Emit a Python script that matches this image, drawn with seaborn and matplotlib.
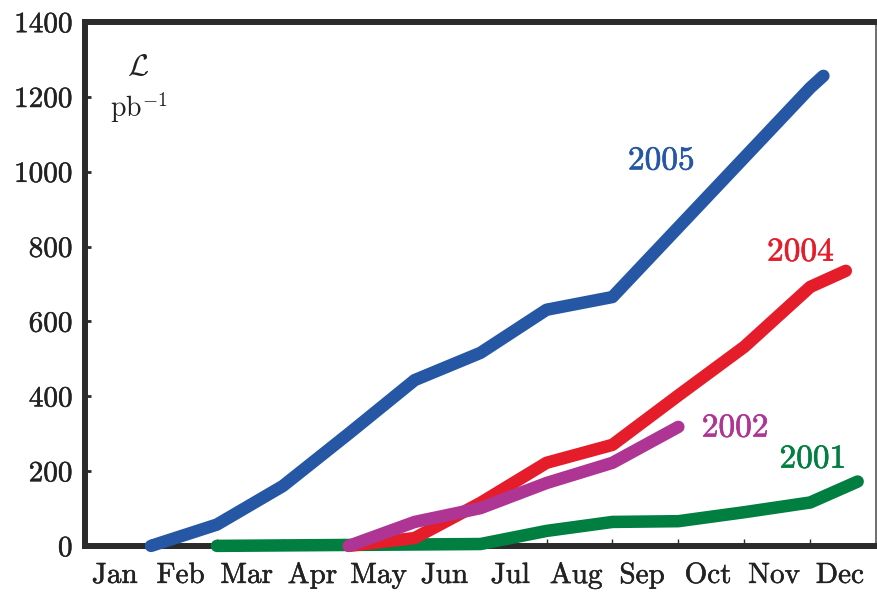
import numpy as np
import pandas as pd
import seaborn as sns
import matplotlib.pyplot as plt
import matplotlib.patheffects as pe

# integrated luminosity per run year, x in months (0 = Jan 1, 12 = Dec 31)
months = ["Jan", "Feb", "Mar", "Apr", "May", "Jun", "Jul", "Aug", "Sep", "Oct", "Nov", "Dec"]

x2005 = [1, 2, 3, 4, 5, 6, 7, 8, 11, 11.2]
y2005 = [0, 57, 160, 300, 443, 516, 631, 665, 1224, 1256]

x2004 = [4, 5, 6, 7, 8, 9, 10, 11, 11.54]
y2004 = [0, 21, 115, 222, 270, 402, 532, 692, 735]

x2002 = [4, 5, 6, 7, 8, 9]
y2002 = [0, 64, 101, 168, 222, 318]

x2001 = [2, 6, 7, 8, 9, 10, 11, 11.72]
y2001 = [0, 5, 40, 64, 66, 90, 116, 172]

years = ["2001", "2004", "2002", "2005"]
colors = {"2005": "#2557a5", "2004": "#e51d2b", "2002": "#ae3593", "2001": "#007f41"}

df = pd.concat([
    pd.DataFrame({"month": x2001, "lumi": y2001, "year": "2001"}),
    pd.DataFrame({"month": x2004, "lumi": y2004, "year": "2004"}),
    pd.DataFrame({"month": x2002, "lumi": y2002, "year": "2002"}),
    pd.DataFrame({"month": x2005, "lumi": y2005, "year": "2005"}),
])

sns.set_style("white")
plt.rcParams['font.family'] = ['cmr10', 'DejaVu Serif']
plt.rcParams['mathtext.fontset'] = 'cm'
plt.rcParams['axes.formatter.use_mathtext'] = True

fig = plt.figure(figsize=(8.77, 5.94), dpi=100)
ax = fig.add_axes([0.097, 0.081, 0.902, 0.882])

sns.lineplot(data=df, x="month", y="lumi", hue="year", hue_order=years,
             palette=colors, linewidth=9, legend=False, sort=False,
             estimator=None, solid_capstyle="round", ax=ax,
             clip_on=False, zorder=3)

ax.set_xlim(0, 12)
ax.set_ylim(0, 1400)
ax.set_xlabel("")
ax.set_ylabel("")

ax.set_yticks(np.arange(0, 1401, 200))
ax.set_yticklabels([str(v) for v in range(0, 1401, 200)])
ax.set_xticks(np.arange(12) + 0.45)
ax.set_xticklabels(months)
ax.set_xticks(np.arange(1, 12), minor=True)
ax.tick_params(axis="y", direction="in", length=4.5, width=2, color="#2b2b2b",
               labelsize=21, pad=9, left=True, labelcolor="#222222")
ax.tick_params(axis="x", which="major", length=0, labelsize=21, pad=12,
               labelcolor="#222222")
ax.tick_params(axis="x", which="minor", direction="in", length=5, width=1,
               color="#2b2b2b", bottom=True)

for side in ["left", "top", "bottom"]:
    ax.spines[side].set_linewidth(4.3)
    ax.spines[side].set_color("#2b2b2b")
ax.spines["right"].set_linewidth(1.2)
ax.spines["right"].set_color("#555555")

heavy = [pe.withStroke(linewidth=0.35, foreground="#222222")]
for lab in ax.get_xticklabels() + ax.get_yticklabels():
    lab.set_path_effects(heavy)

ax.text(0.8, 1280, r"$\mathcal{L}$", fontsize=22, ha="center", va="center",
        color="#222222")
ax.text(0.82, 1170, r"pb$^{-1}$", fontsize=20, ha="center", va="center",
        color="#222222")

label_pos = {"2005": (8.74, 1029), "2004": (10.85, 785),
             "2002": (9.86, 315), "2001": (11.04, 232)}
for yr, (lx, ly) in label_pos.items():
    ax.text(lx, ly, yr, color=colors[yr], fontsize=24, ha="center", va="center",
            path_effects=[pe.withStroke(linewidth=0.45, foreground=colors[yr])])

fig.savefig("out.png", dpi=100)
